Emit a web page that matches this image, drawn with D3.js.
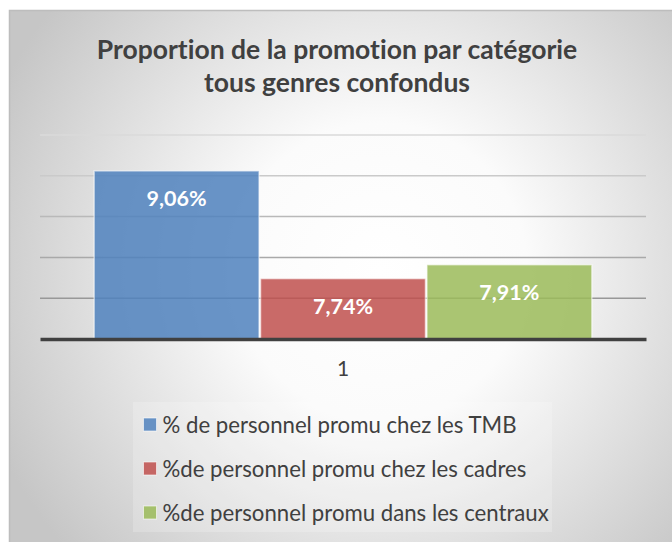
<!DOCTYPE html>
<html>
<head>
<meta charset="utf-8">
<script src="https://cdn.jsdelivr.net/npm/d3@7"></script>
<style>
  body { margin: 0; background: #fff; }
  svg { display: block; font-family: Lato, "Open Sans", sans-serif; font-variant-ligatures: none; font-feature-settings: "liga" 0; }
</style>
</head>
<body>
<div id="chart"></div>
<script>
const categories = ["1"];
const seriesNames = [
  "% de personnel promu chez les TMB",
  "%de personnel promu chez les cadres",
  "%de personnel promu dans les centraux"
];
const seriesValues = [9.06, 7.74, 7.91];
const valueLabels = ["9,06%", "7,74%", "7,91%"];
const seriesColors = ["#4f81bd", "#c0504d", "#9bbb59"];
const yDomain = [7, 9.5];
const titleLines = ["Proportion de la promotion par catégorie", "tous genres confondus"];

const width = 672, height = 542;

const svg = d3.select("#chart").append("svg")
  .attr("width", width)
  .attr("height", height);

// background gradient like the office chart style
const defs = svg.append("defs");
const grad = defs.append("radialGradient")
  .attr("id", "bg")
  .attr("gradientUnits", "userSpaceOnUse")
  .attr("cx", 380).attr("cy", 270).attr("r", 420);
grad.append("stop").attr("offset", "0%").attr("stop-color", "#ffffff");
grad.append("stop").attr("offset", "35%").attr("stop-color", "#fbfbfb");
grad.append("stop").attr("offset", "100%").attr("stop-color", "#c6c6c6");

svg.append("rect")
  .attr("x", 9.5).attr("y", 10.5)
  .attr("width", 720).attr("height", 600)
  .attr("fill", "url(#bg)")
  .attr("stroke", "#bdbdbd")
  .attr("stroke-width", 1.5);

// title
svg.append("g").selectAll("text")
  .data(titleLines)
  .join("text")
  .attr("x", 337)
  .attr("y", (d, i) => 59 + i * 33)
  .attr("text-anchor", "middle")
  .attr("font-weight", "bold")
  .attr("font-size", 26.5)
  .attr("fill", "#404040")
  .text(d => d);

// scales
const plot = {left: 40, right: 646, top: 135, bottom: 339};

const x0 = d3.scaleBand()
  .domain(categories)
  .range([plot.left, plot.right])
  .paddingOuter(0.107)
  .paddingInner(0);

const x1 = d3.scaleBand()
  .domain(seriesNames)
  .range([0, x0.bandwidth()]);

const y = d3.scaleLinear()
  .domain(yDomain)
  .range([plot.bottom, plot.top]);

const gridShade = d3.scaleLinear()
  .domain(yDomain)
  .range(["#888888", "#dadada"]);

// gridlines
svg.append("g").selectAll("line")
  .data(y.ticks(5).filter(t => t > yDomain[0]))
  .join("line")
  .attr("x1", plot.left)
  .attr("x2", plot.right)
  .attr("y1", d => y(d))
  .attr("y2", d => y(d))
  .attr("stroke", d => gridShade(d))
  .attr("stroke-width", 1.5);

// bars
const bars = svg.append("g")
  .selectAll("g")
  .data(categories)
  .join("g")
  .attr("transform", d => "translate(" + x0(d) + ",0)");

bars.selectAll("rect")
  .data(() => seriesNames.map((s, i) => ({name: s, value: seriesValues[i], color: seriesColors[i]})))
  .join("rect")
  .attr("x", d => x1(d.name) + 0.75)
  .attr("width", x1.bandwidth() - 1.5)
  .attr("y", d => y(d.value))
  .attr("height", d => y(yDomain[0]) - y(d.value))
  .attr("fill", d => d.color)
  .attr("fill-opacity", 0.85)
  .attr("stroke", "#ffffff")
  .attr("stroke-opacity", 0.55)
  .attr("stroke-width", 1.5);

bars.selectAll("text")
  .data(() => seriesNames.map((s, i) => ({name: s, value: seriesValues[i], label: valueLabels[i]})))
  .join("text")
  .attr("x", d => x1(d.name) + x1.bandwidth() / 2)
  .attr("y", d => y(d.value) + 35)
  .attr("text-anchor", "middle")
  .attr("font-weight", "bold")
  .attr("font-size", 21.5)
  .attr("fill", "#ffffff")
  .text(d => d.label);

// x axis baseline + category
const xAxis = svg.append("g")
  .attr("transform", "translate(0," + plot.bottom + ")")
  .call(d3.axisBottom(x0).tickSize(0).tickPadding(22));
xAxis.select(".domain")
  .attr("stroke", "#404040")
  .attr("stroke-width", 3.5);
xAxis.selectAll("text")
  .attr("font-family", "Lato, sans-serif")
  .attr("font-size", 21)
  .attr("fill", "#404040");

// legend
const legend = svg.append("g");
legend.append("rect")
  .attr("x", 133).attr("y", 402)
  .attr("width", 419).attr("height", 130)
  .attr("fill", "#ffffff")
  .attr("fill-opacity", 0.2);

const items = legend.selectAll("g.item")
  .data(seriesNames)
  .join("g")
  .attr("class", "item")
  .attr("transform", (d, i) => "translate(143," + (433 + i * 44) + ")");

items.append("rect")
  .attr("x", 0.5).attr("y", -15)
  .attr("width", 13).attr("height", 13)
  .attr("fill", (d, i) => seriesColors[i])
  .attr("fill-opacity", 0.85)
  .attr("stroke", "#ffffff")
  .attr("stroke-opacity", 0.6);

items.append("text")
  .attr("x", 19.5)
  .attr("y", 0)
  .attr("font-size", 22.2)
  .attr("fill", "#404040")
  .text(d => d);
</script>
</body>
</html>
